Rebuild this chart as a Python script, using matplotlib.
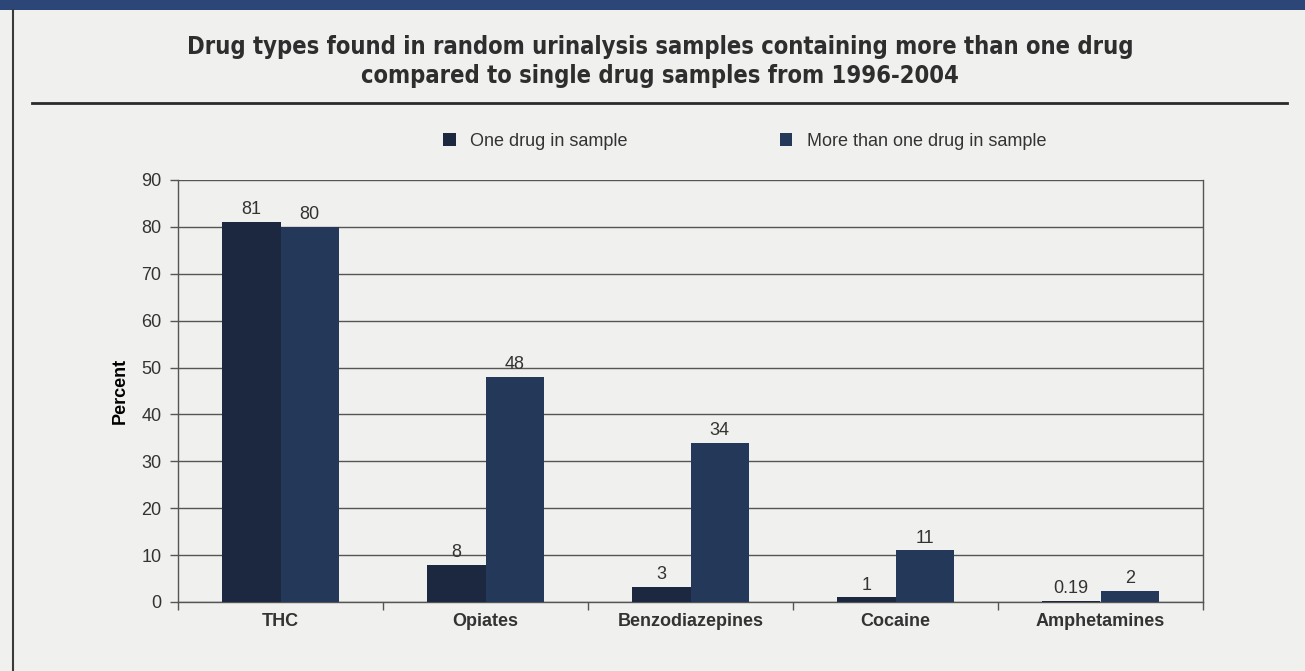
#!/usr/bin/env python3
"""Drug types in random urinalysis samples, 1996-2004"""
import matplotlib.pyplot as plt
from matplotlib.patches import Rectangle
from matplotlib.lines import Line2D
import numpy as np

BG = '#f0f0ee'
ONE, MORE = '#1c2840', '#24385a'
TXT = '#333333'

DRUGS = ['THC', 'Opiates', 'Benzodiazepines', 'Cocaine', 'Amphetamines']
ONE_DRUG = [81, 7.9, 3.2, 1, 0.19]
MORE_DRUG = [80, 48, 34, 11, 2.3]
ONE_LBL = ['81', '8', '3', '1', '0.19']
MORE_LBL = ['80', '48', '34', '11', '2']
YTICKS = list(range(0, 91, 10))

plt.rcParams.update({'font.family': ['Liberation Sans', 'DejaVu Sans'], 'text.color': TXT})

fig = plt.figure(figsize=(13.05, 6.71), dpi=100, facecolor=BG)
W, H = 1305, 671

# frame decoration: blue strip on top, dark rule on the left, title underline
fig.add_artist(Rectangle((0, 1 - 10 / H), 1, 10 / H, transform=fig.transFigure,
                         color='#2c4677', lw=0))
fig.add_artist(Line2D([13 / W, 13 / W], [0, 1 - 10 / H], transform=fig.transFigure,
                      color='#3a3a3a', lw=1.5))
fig.add_artist(Line2D([32 / W, 1287 / W], [1 - 103 / H] * 2, transform=fig.transFigure,
                      color='#2a2a2a', lw=2))

TFONT = dict(fontsize=17, fontweight='bold', color='#2e2e2e', fontstretch='condensed',
             family=['DejaVu Sans', 'Liberation Sans'])
fig.text(660 / W, 1 - 47 / H, 'Drug types found in random urinalysis samples containing more than one drug',
         ha='center', va='center', **TFONT)
fig.text(660 / W, 1 - 76 / H, 'compared to single drug samples from 1996-2004',
         ha='center', va='center', **TFONT)

ax = fig.add_axes([178 / W, 1 - 602 / H, (1203 - 178) / W, (602 - 180) / H])
ax.set_facecolor(BG)
x = np.arange(len(DRUGS))
w = 0.285
b1 = ax.bar(x - w / 2, ONE_DRUG, w, color=ONE, label='One drug in sample', zorder=3)
b2 = ax.bar(x + w / 2, MORE_DRUG, w, color=MORE, label='More than one drug in sample', zorder=3)
for bars, lbls in ((b1, ONE_LBL), (b2, MORE_LBL)):
    for bar, t in zip(bars, lbls):
        ax.text(bar.get_x() + bar.get_width() / 2, bar.get_height() + 0.8, t,
                ha='center', va='bottom', fontsize=13, color=TXT)

ax.set_ylim(0, 90)
ax.set_xlim(-0.5, len(DRUGS) - 0.5)
ax.set_yticks(YTICKS)
ax.yaxis.grid(True, color='#555555', lw=1, zorder=0)
ax.tick_params(axis='y', labelsize=13, length=6, width=1, color='#555555', labelcolor=TXT, pad=6)
ax.set_xticks(np.arange(len(DRUGS) + 1) - 0.5)
ax.set_xticklabels([])
ax.tick_params(axis='x', which='major', length=6, width=1, color='#555555')
ax.set_xticks(x, minor=True)
ax.set_xticklabels(DRUGS, minor=True, fontsize=13, fontweight='bold', color=TXT)
ax.tick_params(axis='x', which='minor', length=0, pad=8)
for s in ax.spines.values():
    s.set_color('#555555')
    s.set_linewidth(1)
ax.spines['top'].set_visible(False)
ax.set_ylabel('Percent', fontsize=13, fontweight='bold', labelpad=9)

ax.legend(loc='center', bbox_to_anchor=(0.553, 1.092), ncol=2, frameon=False,
          fontsize=13, handlelength=0.7, handleheight=0.7, columnspacing=8.4, handletextpad=0.8)

fig.savefig('out.png', dpi=100, facecolor=BG)
